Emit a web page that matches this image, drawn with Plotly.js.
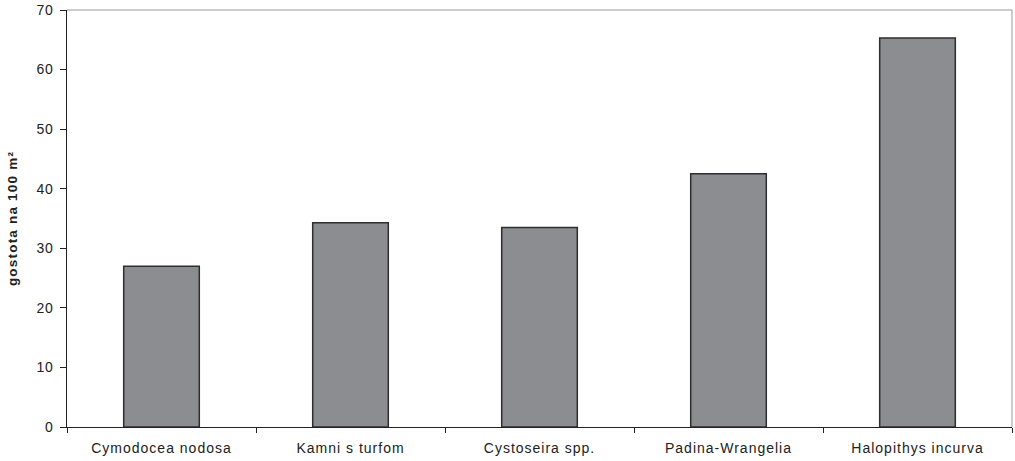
<!DOCTYPE html>
<html>
<head>
<meta charset="utf-8">
<script src="https://cdn.plot.ly/plotly-3.0.1.min.js"></script>
<style>
html,body{margin:0;padding:0;background:#fff;}
#chart{width:1015px;height:461px;}
#chart .xtick text{letter-spacing:1px;}
#chart .ytick text{letter-spacing:0.5px;}
#chart .ytitle{letter-spacing:1.2px;}
</style>
</head>
<body>
<div id="chart"></div>
<script>
const categories = ["Cymodocea nodosa", "Kamni s turfom", "Cystoseira spp.", "Padina-Wrangelia", "Halopithys incurva"];
const density = [27.0, 34.3, 33.5, 42.5, 65.3];
const yTicks = [0, 10, 20, 30, 40, 50, 60, 70];

const trace = {
  type: "bar",
  x: categories,
  y: density,
  marker: { color: "#8c8d91", line: { color: "#2e2e2e", width: 1.5 } },
  hoverinfo: "x+y"
};

const layout = {
  width: 1015, height: 461,
  margin: { l: 67, r: 3, t: 10, b: 34 },
  paper_bgcolor: "#ffffff", plot_bgcolor: "#ffffff",
  bargap: 0.6,
  showlegend: false,
  font: { family: "Liberation Sans, Arial, sans-serif", color: "#222", size: 14 },
  xaxis: {
    type: "category",
    showline: true, linecolor: "#222", linewidth: 1,
    ticks: "outside", tickson: "boundaries", ticklen: 5, tickcolor: "#222",
    ticklabelstandoff: 8,
    tickfont: { size: 14, color: "#222" },
    showgrid: false, zeroline: false, fixedrange: true
  },
  yaxis: {
    range: [0, 70],
    tickvals: yTicks,
    showline: true, linecolor: "#222", linewidth: 1,
    ticks: "outside", ticklen: 6, tickcolor: "#222",
    ticklabelstandoff: 4,
    tickfont: { size: 14, color: "#222" },
    showgrid: false, zeroline: false, fixedrange: true,
    title: { text: "<b>gostota na 100 m²</b>", font: { size: 13.5, color: "#222" }, standoff: 16 }
  },
  shapes: [
    { type: "line", xref: "paper", yref: "paper", x0: 0, x1: 1, y0: 1, y1: 1, line: { color: "#999", width: 1 } },
    { type: "line", xref: "paper", yref: "paper", x0: 1, x1: 1, y0: 0, y1: 1, line: { color: "#999", width: 1 } }
  ]
};

Plotly.newPlot("chart", [trace], layout, { displayModeBar: false, staticPlot: true });
</script>
</body>
</html>
